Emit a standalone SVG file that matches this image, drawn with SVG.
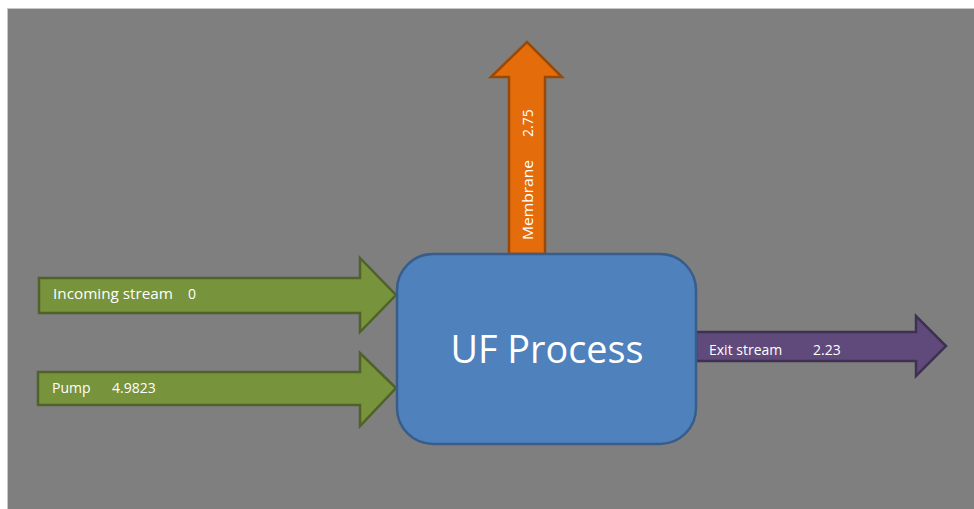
<svg xmlns="http://www.w3.org/2000/svg" width="974" height="509" viewBox="0 0 974 509">
<style>
.lbl{font-family:"Open Sans","Liberation Sans",sans-serif;font-size:14px;fill:#ffffff}
.green{fill:#77933c;stroke:#4f6228;stroke-width:2.5;stroke-linejoin:miter}
.orange{fill:#e46c0a;stroke:#984807;stroke-width:2.5}
.purple{fill:#604a7b;stroke:#3f3151;stroke-width:2.5}
</style>
<rect x="0" y="0" width="974" height="509" fill="#ffffff"/>
<rect x="7" y="8" width="967" height="501" fill="#c8c8c8"/>
<rect x="8" y="9" width="966" height="500" fill="#7f7f7f"/>
<g id="connectors">
  <g id="incoming">
    <polygon class="green" points="39,278 360,278 360,258 396,295 360,332 360,313 39,313"/>
    <text class="lbl" x="53" y="299" textLength="120" lengthAdjust="spacingAndGlyphs">Incoming stream</text>
    <text class="lbl" x="188" y="299">0</text>
  </g>
  <g id="pump">
    <polygon class="green" points="38,372 360,372 360,353 396,388 360,426 360,405 38,405"/>
    <text class="lbl" x="52" y="393">Pump</text>
    <text class="lbl" x="112" y="393">4.9823</text>
  </g>
  <g id="membrane">
    <polygon class="orange" points="509,254 509,77 491,77 527,42 562,77 545,77 545,254"/>
    <text class="lbl" transform="translate(533,240) rotate(-90)" x="0" y="0" textLength="80" lengthAdjust="spacingAndGlyphs">Membrane</text>
    <text class="lbl" transform="translate(533,137) rotate(-90)" x="0" y="0">2.75</text>
  </g>
  <g id="exit">
    <polygon class="purple" points="696,332 916,332 916,316 946,346 916,376 916,361 696,361"/>
    <text class="lbl" x="709" y="355">Exit stream</text>
    <text class="lbl" x="813" y="355">2.23</text>
  </g>
</g>
<g id="uf-process">
  <rect x="397" y="254" width="299" height="190" rx="36" ry="36" fill="#4f81bd" stroke="#385d8a" stroke-width="2.5"/>
  <text x="547" y="363" text-anchor="middle" font-family="Open Sans, Liberation Sans, sans-serif" font-size="38" fill="#ffffff" textLength="193" lengthAdjust="spacingAndGlyphs">UF Process</text>
</g>
</svg>
